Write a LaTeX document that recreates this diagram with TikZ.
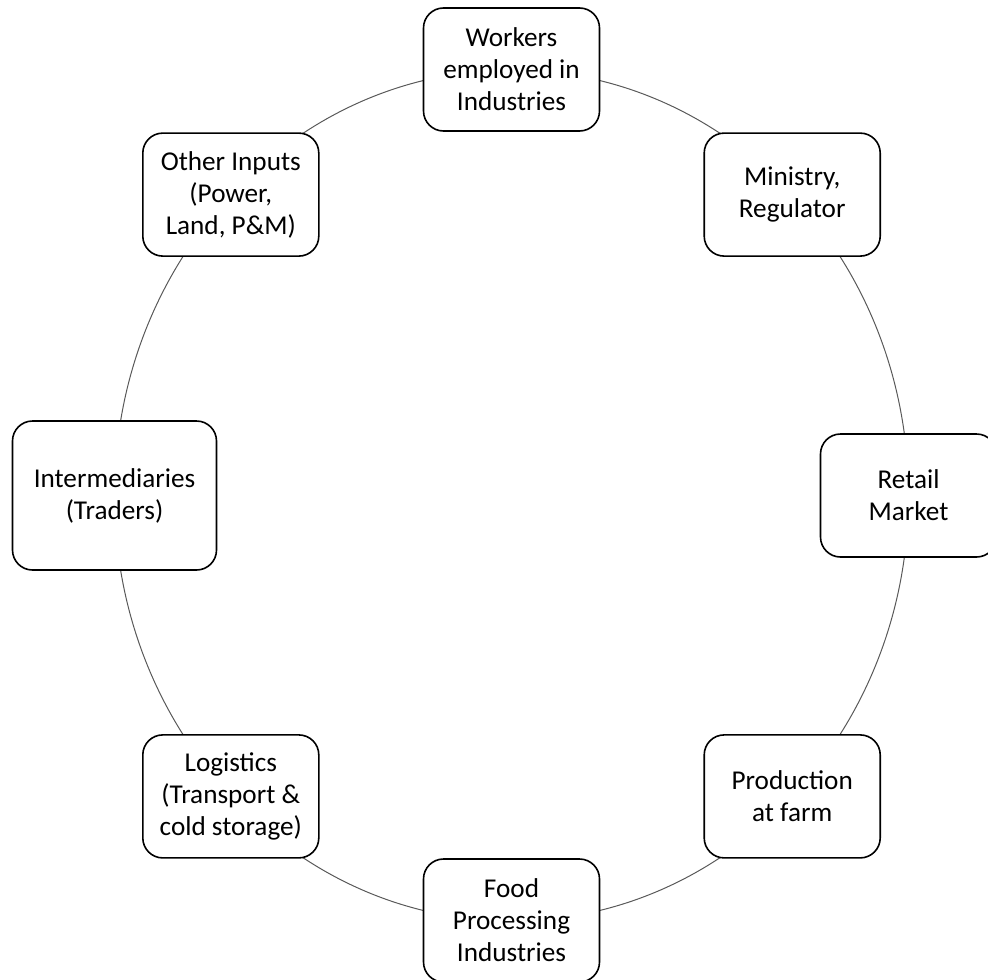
\documentclass[tikz,border=0pt]{standalone}
\usepackage{fontspec}
\setmainfont{Carlito}
\usetikzlibrary{backgrounds}
\tikzset{
  cyclebox/.style={draw=black, line width=0.8pt, fill=white, rounded corners=10pt,
    minimum width=88pt, minimum height=61.5pt, inner sep=2pt, align=center,
    font=\fontsize{13.6}{16}\selectfont},
  bigbox/.style={cyclebox, minimum width=102pt, minimum height=74.5pt},
  ring/.style={draw=black!65, line width=0.5pt}
}
\begin{document}
\begin{tikzpicture}[x=0.5pt,y=-0.5pt]
\useasboundingbox (0,0) rectangle (988,979);
\coordinate (c) at (511.5,495.5);
\node[cyclebox] (workers) at (511.5,69.5) {Workers\\employed in\\Industries};
\node[cyclebox] (ministry) at (792.2,194.6) {Ministry,\\Regulator};
\node[cyclebox] (retail) at (908.5,495.5) {Retail\\Market};
\node[cyclebox] (farm) at (792.2,796.4) {Production\\at farm};
\node[cyclebox] (food) at (511.5,920.5) {Food\\Processing\\Industries};
\node[cyclebox] (logistics) at (230.8,796.4) {Logistics\\(Transport \&\\cold storage)};
\node[bigbox] (traders) at (114.5,495.5) {Intermediaries\\(Traders)};
\node[cyclebox] (inputs) at (230.8,194.6) {Other Inputs\\(Power,\\Land, P\&M)};
\begin{scope}[on background layer]
\draw[ring] (c) ellipse [x radius=198.5pt, y radius=212.75pt];
\end{scope}
\end{tikzpicture}
\end{document}
